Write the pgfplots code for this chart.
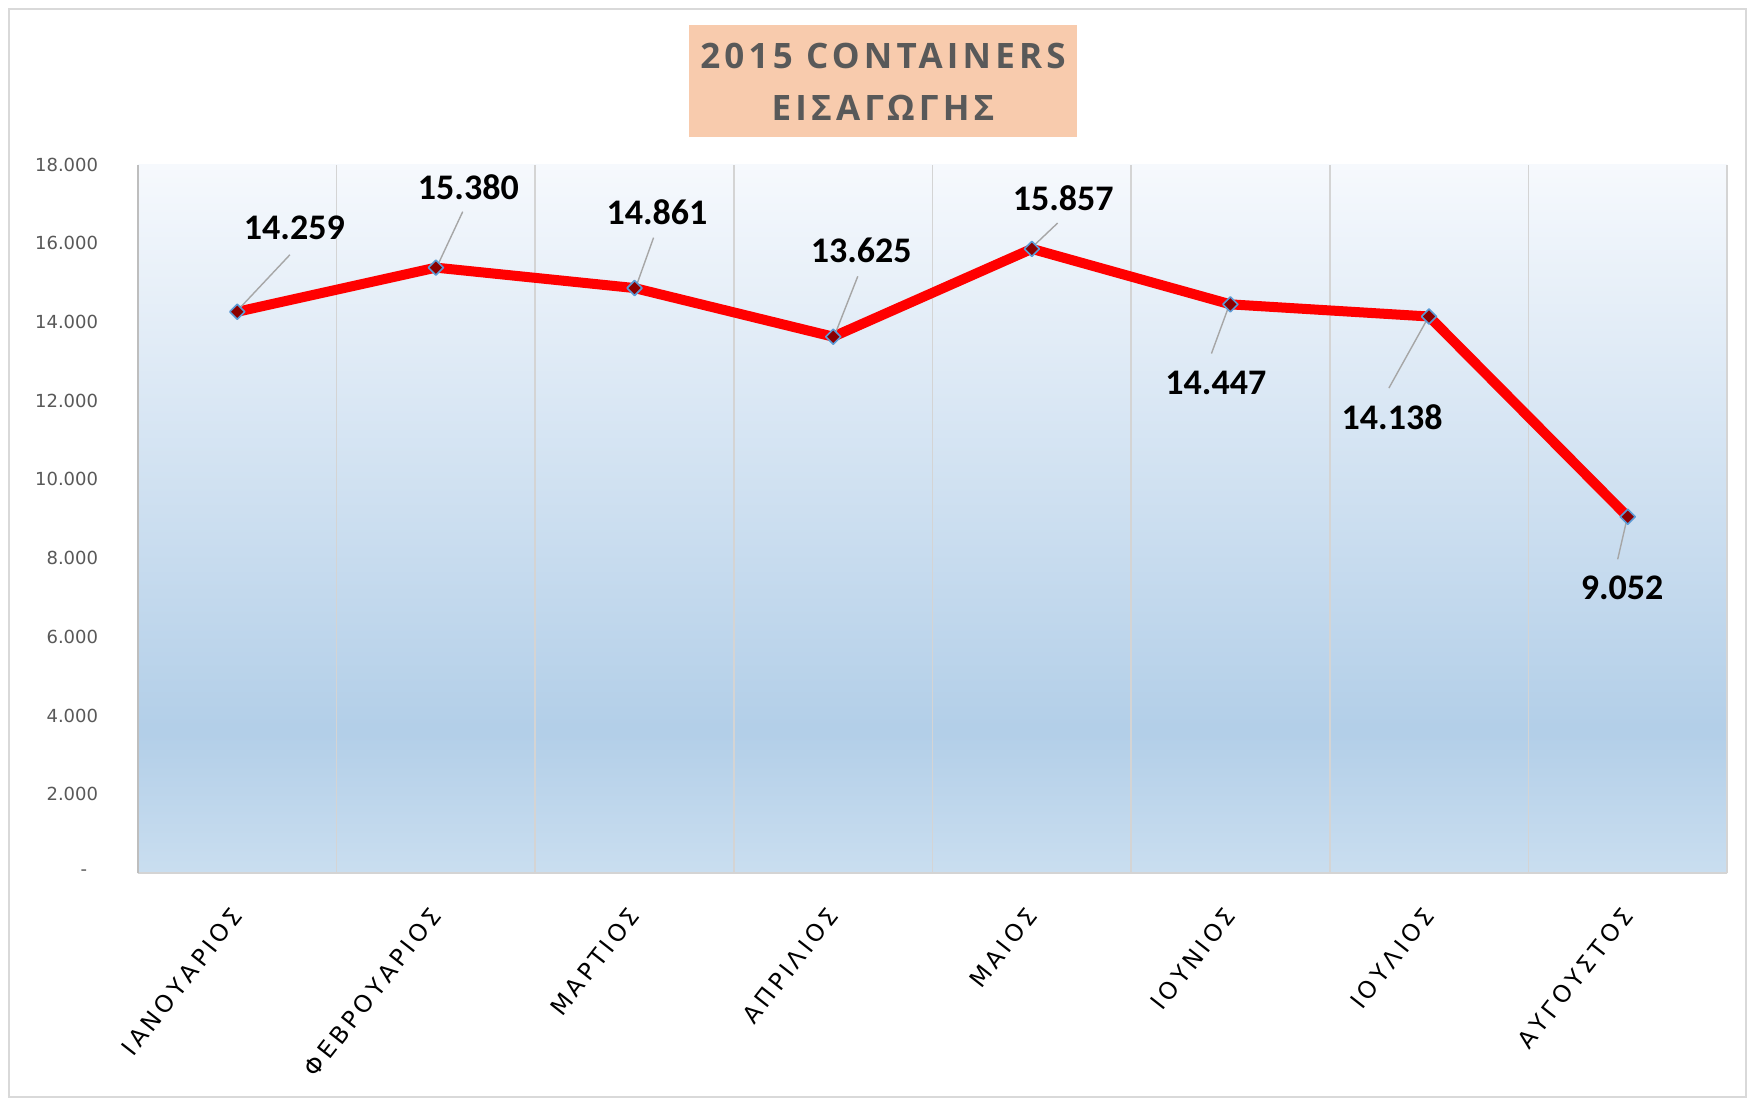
\documentclass[border=0pt]{standalone}
\usepackage{pgfplots}
\pgfplotsset{compat=1.18}
\usepackage{fontspec}
\newfontfamily\titlefont[LetterSpace=12]{Open Sans}
\newfontfamily\tickfont{DejaVu Sans}
\newfontfamily\xfont[LetterSpace=16]{DejaVu Sans}
\newfontfamily\labfont{Carlito}
\definecolor{titlebg}{RGB}{248,203,173}
\definecolor{titletxt}{RGB}{89,89,89}
\definecolor{ticktxt}{RGB}{89,89,89}
\definecolor{gridc}{RGB}{212,212,212}
\definecolor{axisc}{RGB}{190,190,190}
\definecolor{borderc}{RGB}{217,217,217}
\definecolor{mk}{RGB}{140,0,0}
\definecolor{mkb}{RGB}{91,155,213}
\definecolor{leaderc}{RGB}{166,166,166}
\pgfdeclareverticalshading{plotbg}{100bp}{rgb(0bp)=(0.79,0.87,0.94); rgb(25bp)=(0.79,0.87,0.94); rgb(35bp)=(0.70,0.81,0.91); rgb(75bp)=(0.965,0.976,0.992); rgb(100bp)=(0.965,0.976,0.992)}

\begin{document}
\begin{tikzpicture}
\path[use as bounding box, fill=white] (0,0) rectangle (877.5pt,550pt);
\draw[borderc, line width=1pt] (4.5pt,1.5pt) rectangle (873pt,545.5pt);
\begin{axis}[
  at={(69pt,113.5pt)}, anchor=south west,
  scale only axis, width=794.5pt, height=354.25pt,
  xmin=-0.5, xmax=7.5, ymin=0, ymax=18000,
  scaled y ticks=false,
  axis background/.style={shade, shading=plotbg},
  axis x line*=bottom, axis y line*=left,
  x axis line style={gridc, line width=1pt},
  y axis line style={axisc, line width=1pt},
  tick style={draw=none},
  xtick={0,1,2,3,4,5,6,7},
  xticklabels={ΙΑΝΟΥΑΡΙΟΣ,ΦΕΒΡΟΥΑΡΙΟΣ,ΜΑΡΤΙΟΣ,ΑΠΡΙΛΙΟΣ,ΜΑΙΟΣ,ΙΟΥΝΙΟΣ,ΙΟΥΛΙΟΣ,ΑΥΓΟΥΣΤΟΣ},
  minor xtick={0.5,1.5,2.5,3.5,4.5,5.5,6.5,7.5},
  xminorgrids=true,
  minor x grid style={gridc, line width=0.8pt},
  ytick={0,2000,4000,6000,8000,10000,12000,14000,16000,18000},
  yticklabels={{-\hspace*{5.5pt}},{2.000},{4.000},{6.000},{8.000},{10.000},{12.000},{14.000},{16.000},{18.000}},
  yticklabel style={font=\tickfont\fontsize{9}{10}\selectfont, text=ticktxt, inner sep=0pt, anchor=east},
  yticklabel shift=19.75pt,
  xticklabel style={font=\xfont\fontsize{11.8}{13}\selectfont, text=black, inner sep=0pt, rotate=52, anchor=east},
  xticklabel shift=19pt,
  clip=false,
]
\addplot[red, line width=5pt, line join=round, mark=square*, mark size=2.65pt,
  mark options={rotate=45, fill=mk, draw=mkb, line width=0.8pt, solid}]
  coordinates {(0,14259) (1,15380) (2,14861) (3,13625) (4,15857) (5,14447) (6,14138) (7,9052)};
\tikzset{leader/.style={leaderc, line width=0.7pt}, lab/.style={font=\labfont\bfseries\fontsize{18}{20}\selectfont, text=black, inner sep=0pt}}
\draw[leader] (axis cs:0,14259) ++(1.1pt,1.7pt) -- ++(25.2pt,26.8pt);
\draw[leader] (axis cs:1,15380) ++(1.1pt,1.7pt) -- ++(12.3pt,26.3pt);
\draw[leader] (axis cs:2,14861) ++(1.1pt,1.7pt) -- ++(8.4pt,23.5pt);
\draw[leader] (axis cs:3,13625) ++(1.1pt,1.7pt) -- ++(11.2pt,28.5pt);
\draw[leader] (axis cs:4,15857) ++(1.1pt,1.7pt) -- ++(11.8pt,11.2pt);
\draw[leader] (axis cs:5,14447) ++(-1.1pt,-1.7pt) -- ++(-8.4pt,-22.9pt);
\draw[leader] (axis cs:6,14138) ++(-1.1pt,-1.7pt) -- ++(-19pt,-34.1pt);
\draw[leader] (axis cs:7,9052) ++(-0.5pt,-1.7pt) -- ++(-4.5pt,-19.6pt);
\node[lab, xshift=28.5pt, yshift=42pt] at (axis cs:0,14259) {14.259};
\node[lab, xshift=16.2pt, yshift=40.3pt] at (axis cs:1,15380) {15.380};
\node[lab, xshift=11.2pt, yshift=38.1pt] at (axis cs:2,14861) {14.861};
\node[lab, xshift=14pt, yshift=43.1pt] at (axis cs:3,13625) {13.625};
\node[lab, xshift=15.7pt, yshift=25.2pt] at (axis cs:4,15857) {15.857};
\node[lab, xshift=-7.3pt, yshift=-39.2pt] at (axis cs:5,14447) {14.447};
\node[lab, xshift=-18.5pt, yshift=-50.4pt] at (axis cs:6,14138) {14.138};
\node[lab, xshift=-2.8pt, yshift=-35.8pt] at (axis cs:7,9052) {9.052};
\end{axis}
\fill[titlebg] (344.5pt,481.5pt) rectangle (538.5pt,537.5pt);
\node[font=\titlefont\bfseries\fontsize{17.5}{20}\selectfont, text=titletxt, inner sep=0pt] at (441.5pt,522pt) {2015 CONTAINERS};
\node[font=\titlefont\bfseries\fontsize{17.5}{20}\selectfont, text=titletxt, inner sep=0pt] at (441.5pt,496.25pt) {ΕΙΣΑΓΩΓΗΣ};
\end{tikzpicture}
\end{document}
